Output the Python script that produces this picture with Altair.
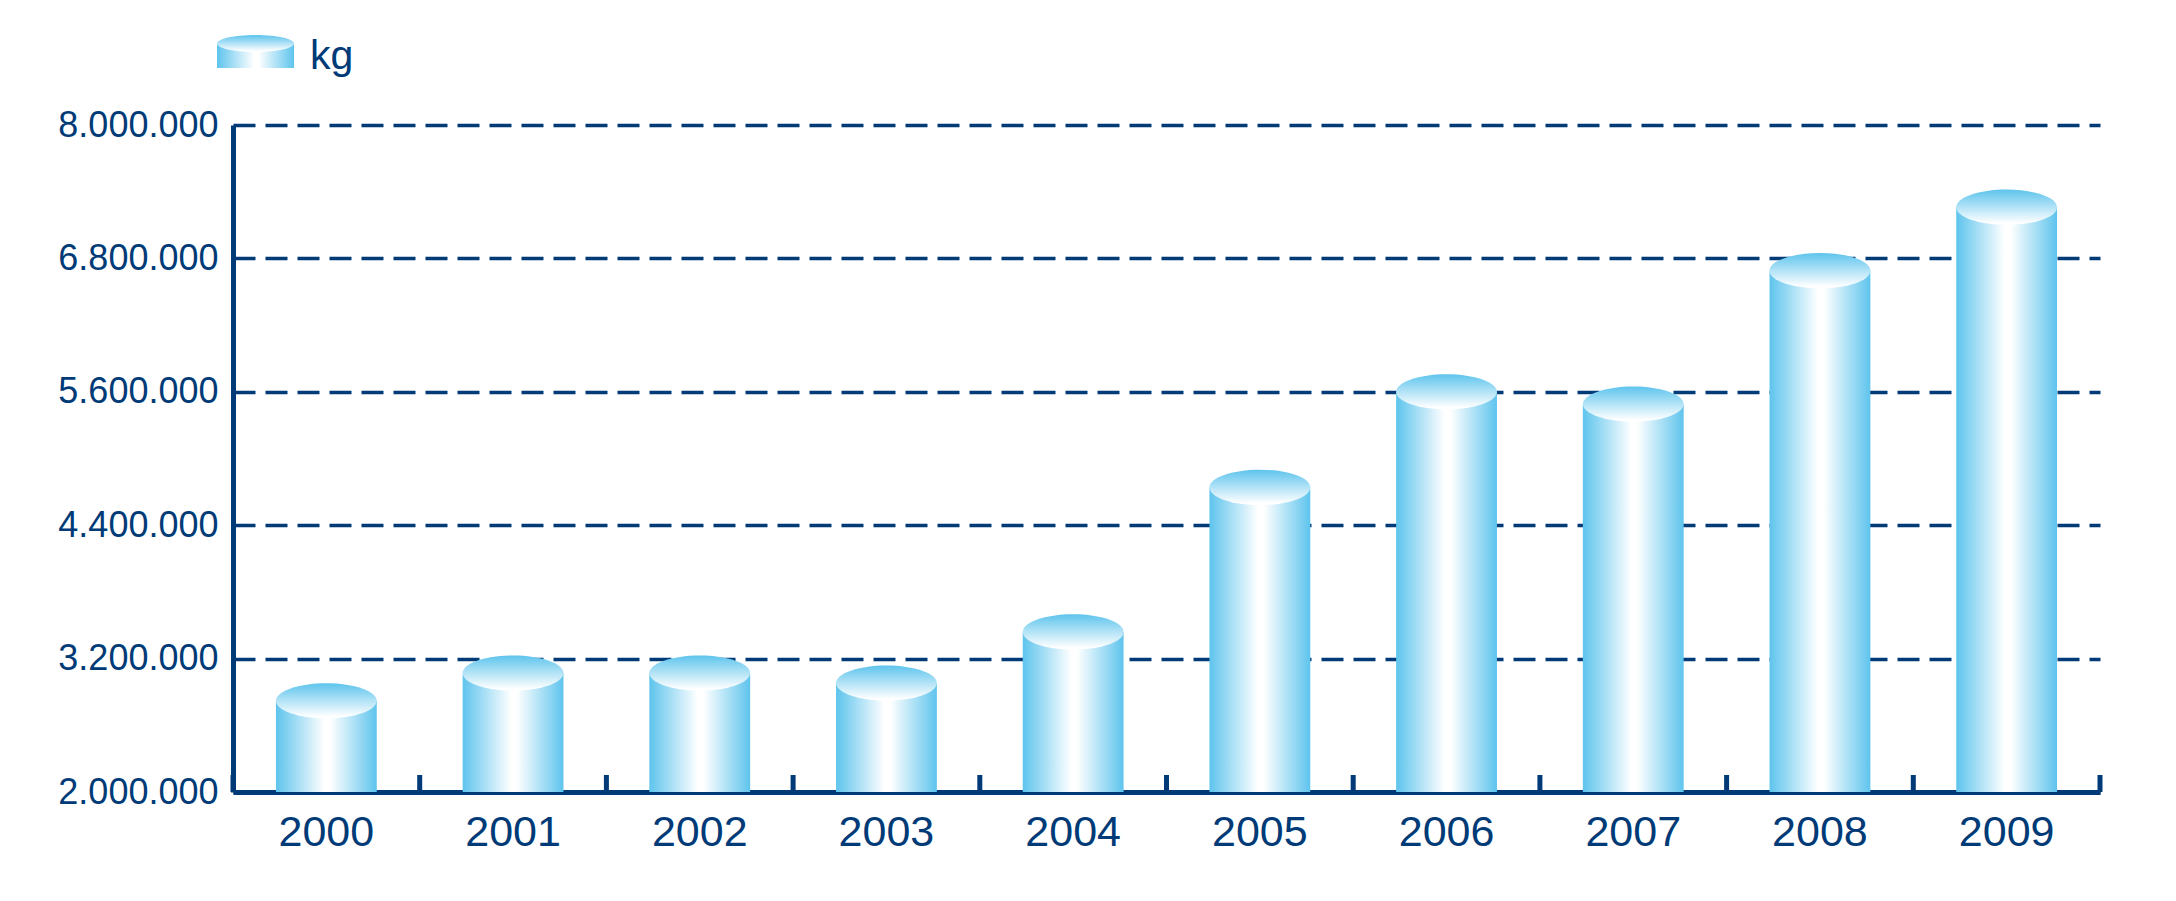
import altair as alt
import pandas as pd

# ---- data ----
years = ["2000", "2001", "2002", "2003", "2004", "2005", "2006", "2007", "2008", "2009"]
values_kg = [2820000, 3070000, 3070000, 2980000, 3440000, 4740000, 5600000, 5490000, 6690000, 7260000]
y_ticks = [2000000, 3200000, 4400000, 5600000, 6800000, 8000000]
legend_label = ["kg"]

NAVY = "#003b77"
BLUE = "#5ec4ed"
W, H = 1867, 667
BAR_FRAC = 0.54
BAR_PX = W / len(years) * BAR_FRAC

df = pd.DataFrame({"year": years, "kg": values_kg})
leg = pd.DataFrame({"label": legend_label})

ELLIPSE = "M-1,0A1,0.35,0,1,1,1,0A1,0.35,0,1,1,-1,0Z"
ELLIPSE_LEG = "M-1,0A1,0.22,0,1,1,1,0A1,0.22,0,1,1,-1,0Z"

body_grad = alt.Gradient(
    gradient="linear",
    stops=[alt.GradientStop(color=BLUE, offset=0),
           alt.GradientStop(color="#ffffff", offset=0.48),
           alt.GradientStop(color="#ffffff", offset=0.54),
           alt.GradientStop(color=BLUE, offset=1)],
    x1=0, x2=1, y1=0, y2=0)
top_grad = alt.Gradient(
    gradient="linear",
    stops=[alt.GradientStop(color=BLUE, offset=0),
           alt.GradientStop(color="#ffffff", offset=0.95)],
    x1=0, x2=0, y1=0, y2=1)

xscale = alt.Scale(paddingInner=0, paddingOuter=0)
xaxis = alt.Axis(title=None, labelAngle=0, labelFont="Liberation Sans", labelFontSize=43,
                 labelColor=NAVY, labelPadding=19, ticks=False, domainColor=NAVY, domainWidth=5)
yscale = alt.Scale(domain=[2000000, 8000000], zero=False, nice=False)
yaxis = alt.Axis(title=None, values=y_ticks,
                 labelExpr="replace(format(datum.value, ',.0f'), /,/g, '.')",
                 labelFont="Liberation Sans", labelFontSize=36, labelColor=NAVY,
                 labelPadding=15, ticks=False, domainColor=NAVY, domainWidth=5,
                 grid=True, gridColor=NAVY, gridDash=[22, 10], gridWidth=3.5, gridOpacity=1)

bars = alt.Chart(df).mark_bar(width=alt.RelativeBandSize(BAR_FRAC), color=body_grad, strokeWidth=0).encode(
    x=alt.X("year:N", scale=xscale, axis=xaxis, sort=years),
    y=alt.Y("kg:Q", scale=yscale, axis=yaxis),
    y2=alt.datum(2000000),
)

tops = alt.Chart(df).mark_point(filled=True, shape=ELLIPSE, size=BAR_PX ** 2, color=top_grad,
                                opacity=1, strokeWidth=0).encode(
    x=alt.X("year:N", sort=years),
    y=alt.Y("kg:Q"),
)

ticks = alt.Chart(df).mark_rule(color=NAVY, strokeWidth=5).encode(
    x=alt.X("year:N", sort=years, bandPosition=0),
    y=alt.value(H), y2=alt.value(H - 17),
)
end_tick = alt.Chart(df.tail(1)).mark_rule(color=NAVY, strokeWidth=5).encode(
    x=alt.X("year:N", sort=years, bandPosition=1),
    y=alt.value(H), y2=alt.value(H - 17),
)

leg_body = alt.Chart(leg).mark_rect(color=body_grad).encode(
    x=alt.value(-16), x2=alt.value(61), y=alt.value(-81.5), y2=alt.value(-57),
)
leg_top = alt.Chart(leg).mark_point(filled=True, shape=ELLIPSE_LEG, size=77 ** 2, color=top_grad,
                                    opacity=1, strokeWidth=0).encode(
    x=alt.value(22.5), y=alt.value(-81.5),
)
leg_text = alt.Chart(leg).mark_text(font="Liberation Sans", fontSize=41, color=NAVY, align="left",
                                    baseline="alphabetic").encode(
    x=alt.value(77), y=alt.value(-56), text="label:N",
)

chart = alt.layer(bars, tops, ticks, end_tick, leg_body, leg_top, leg_text).properties(
    width=W, height=H,
    padding={"left": 225, "top": 117, "right": 60, "bottom": 80},
    autosize=alt.AutoSizeParams(type="none"),
).configure_view(stroke=None)

chart.save("out.html", embed_options={"renderer": "svg", "actions": False})
